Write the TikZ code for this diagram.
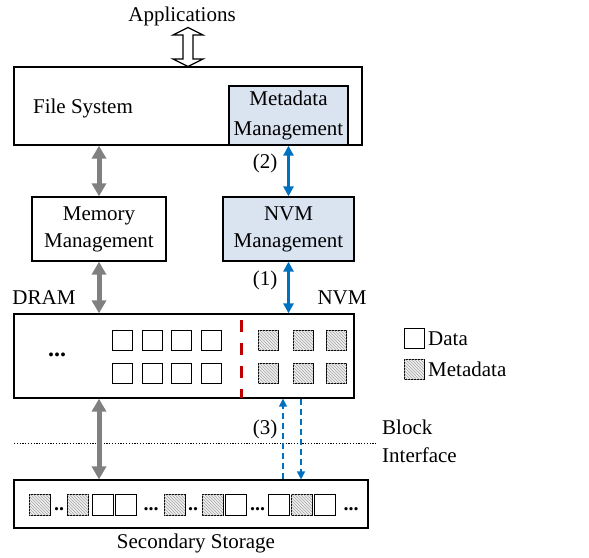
\documentclass[tikz,border=0pt]{standalone}
\usepackage{fontspec}
\setmainfont{Liberation Serif}
\usetikzlibrary{arrows.meta,patterns}
\definecolor{lblue}{HTML}{DAE3F0}
\definecolor{ablue}{HTML}{0070C0}
\definecolor{agray}{HTML}{808080}
\definecolor{dred}{HTML}{C00000}
\begin{document}
\begin{tikzpicture}[x=1pt,y=-1pt,
  every node/.style={font=\fontsize{21}{27}\selectfont},
  box/.style={draw, line width=1.3pt, inner sep=0pt, align=center},
  bluebox/.style={box, fill=lblue},
  lbl/.style={inner sep=0pt},
  datasq/.style={draw, line width=1pt, fill=white, minimum size=20pt, inner sep=0pt},
  metasq/.style={draw, line width=1pt, fill=gray!12, minimum size=20pt, inner sep=0pt,
     postaction={pattern=north west lines, pattern color=gray!70}},
  sdatasq/.style={datasq, minimum size=21pt},
  smetasq/.style={metasq, minimum size=21pt},
  grayarr/.style={draw=agray, line width=5pt, {Triangle[length=13pt,width=14pt]}-{Triangle[length=13pt,width=14pt]}},
  bluearr/.style={draw=ablue, line width=2.8pt, {Triangle[length=10pt,width=10pt]}-{Triangle[length=10pt,width=10pt]}},
  bluedash/.style={draw=ablue, line width=1.4pt, dash pattern=on 6pt off 4pt, -{Triangle[length=8pt,width=8pt]}},
  dots/.style={inner sep=0pt, font=\fontsize{20}{20}\selectfont\bfseries}
]
\useasboundingbox (0,0) rectangle (589,557);

% top
\node[lbl] (apps) at (182,16) {Applications};
\node[box, minimum width=348pt, minimum height=78pt] (fs) at (188,106) {};
\node[lbl] (fstext) at (83,108) {File System};
\node[bluebox, minimum width=119pt, minimum height=59pt, font=\fontsize{21}{30}\selectfont] (meta) at (288.5,115.5) {Metadata\\Management};

% hollow double arrow
\draw[line width=1.2pt, fill=white] (188,27.5) -- (203,35) -- (193,35) -- (193,59) -- (203,59) -- (188,66.5)
  -- (173,59) -- (183,59) -- (183,35) -- (173,35) -- cycle;

% management boxes
\node[box, minimum width=134pt, minimum height=64pt] (mem) at (99,229) {Memory\\Management};
\node[bluebox, minimum width=131pt, minimum height=64pt] (nvm) at (288.5,229) {NVM\\Management};

% main memory
\node[box, minimum width=340pt, minimum height=84pt] (mm) at (184,356) {};
\node[lbl] (dram) at (44,298) {DRAM};
\node[lbl] (nvmlbl) at (342,298) {NVM};
\node[dots, font=\fontsize{24}{24}\selectfont\bfseries] (mmdots) at (57,355) {...};

\foreach \x [count=\i] in {122,152,181.5,211}{
  \node[datasq] (d1\i) at (\x,340.5) {};
  \node[datasq] (d2\i) at (\x,373) {};
}
\foreach \x [count=\i] in {268,303,336.5}{
  \node[metasq] (m1\i) at (\x,340.5) {};
  \node[metasq] (m2\i) at (\x,373) {};
}
\coordinate (redtop) at (241,314);
\coordinate (redbot) at (241,398);
\draw[dred, line width=3pt, dash pattern=on 12pt off 11pt, dash phase=-6pt] (redtop) -- (redbot);

% legend
\node[datasq] (legd) at (414,338.5) {};
\node[lbl, anchor=west] (legdt) at (428,338.5) {Data};
\node[metasq] (legm) at (414,369.5) {};
\node[lbl, anchor=west] (legmt) at (428,369.5) {Metadata};

% secondary storage
\node[box, line width=1.2pt, minimum width=354pt, minimum height=48pt] (ss) at (191,504) {};
\node[lbl] (sstext) at (196,543) {Secondary Storage};
\node[smetasq] (s1) at (39.5,504.5) {};
\node[dots] (sd1) at (59,509) {..};
\node[smetasq] (s2) at (78,504.5) {};
\node[sdatasq] (s3) at (102.5,504.5) {};
\node[sdatasq] (s4) at (126,504.5) {};
\node[dots] (sd2) at (151,509) {...};
\node[smetasq] (s5) at (174.5,504.5) {};
\node[dots] (sd3) at (193,509) {..};
\node[smetasq] (s6) at (212.5,504.5) {};
\node[sdatasq] (s7) at (235.5,504.5) {};
\node[dots] (sd4) at (257.5,509) {...};
\node[sdatasq] (s8) at (278.5,504.5) {};
\node[smetasq] (s9) at (301.5,504.5) {};
\node[sdatasq] (s10) at (325,504.5) {};
\node[dots] (sd5) at (351,509) {...};

% block interface
\coordinate (dotl) at (14,443);
\coordinate (dotr) at (377,443);
\draw[line width=1pt, dash pattern=on 1.2pt off 1.6pt] (dotl) -- (dotr);
\node[lbl, anchor=west, align=left, font=\fontsize{21}{28}\selectfont] (blk) at (382,441) {Block\\Interface};

% arrows
\draw[grayarr] (mem.north |- fs.south) -- (mem.north);
\draw[grayarr] (mem.south) -- (mem.south |- mm.north);
\draw[grayarr] (mem.south |- mm.south) -- (mem.south |- ss.north);

\draw[bluearr] (meta.south) -- (nvm.north);
\draw[bluearr] (nvm.south) -- (nvm.south |- mm.north);
\node[lbl] (l2) at (265,163) {(2)};
\node[lbl] (l1) at (265,280) {(1)};

\coordinate (upx) at (283,0);
\coordinate (dnx) at (301,0);
\draw[bluedash] (upx |- ss.north) -- (upx |- mm.south);
\draw[bluedash] (dnx |- mm.south) -- (dnx |- ss.north);
\node[lbl] (l3) at (265,429) {(3)};
\end{tikzpicture}
\end{document}
